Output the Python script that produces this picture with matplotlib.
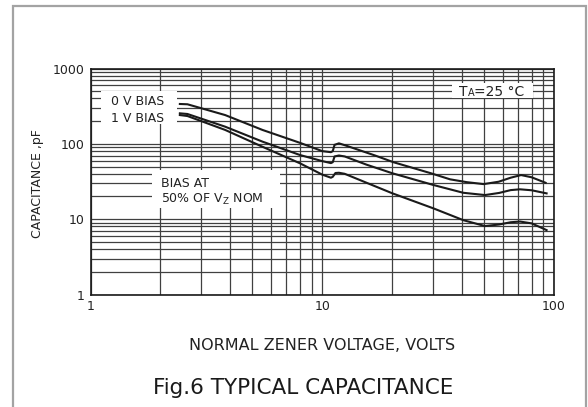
import numpy as np
import matplotlib
matplotlib.use('Agg')
import matplotlib.pyplot as plt
from matplotlib.patches import Rectangle
from matplotlib.ticker import NullFormatter

plt.rcParams['font.family'] = ['DejaVu Sans']

# curve data (volts, pF)
v_0v = [2.43, 2.62, 3.81, 5.52, 8.02, 10.0, 10.9, 11.1, 11.3, 11.8, 12.5, 16.9, 20.3, 29.5, 35.6, 42, 49.7, 57.7, 65, 72.1, 80, 92.0]
c_0v = [338, 335, 241, 153, 103, 80, 77.5, 80, 97, 101.5, 96, 70, 57, 40.6, 33.8, 31, 29.2, 31.4, 35.5, 38.5, 36, 30.4]

v_1v = [2.43, 2.62, 3.81, 5.52, 8.02, 10.0, 10.9, 11.1, 11.3, 11.8, 12.5, 15.5, 20.1, 30.2, 40.6, 50.4, 58, 65, 71.3, 80, 92.9]
c_1v = [254, 249, 169, 107, 71, 59, 55.5, 57, 68, 70, 68, 53, 40.6, 28.4, 22.4, 20.9, 22.3, 24.3, 24.9, 24.2, 22.0]

v_50 = [2.43, 2.62, 3.81, 5.52, 8.02, 10.0, 10.9, 11.1, 11.4, 11.8, 12.5, 15.5, 20.1, 30.2, 40.6, 50.4, 58, 65, 71.3, 80, 92.9]
c_50 = [241, 234, 153, 91.5, 55.1, 39, 35.5, 36.5, 41, 41.3, 40, 30.5, 22.0, 13.9, 9.7, 8.1, 8.5, 9.1, 9.3, 8.8, 7.16]

yticks = [1, 10, 100, 1000]
xticks = [1, 10, 100]

W, H = 588, 407
fig = plt.figure(figsize=(W / 100, H / 100), dpi=100)
ax = fig.add_axes([90.5 / W, 1 - 294.5 / H, 463.5 / W, 226 / H])

# gray outer frame
fig.patches.append(Rectangle((13 / W, -0.05), (586 - 13) / W, 1.05 - 6 / H,
                             transform=fig.transFigure, fill=False,
                             ec='#a3a3a3', lw=1.6, clip_on=False))

ax.set_xscale('log')
ax.set_yscale('log')
ax.set_xlim(1, 100)
ax.set_ylim(1, 1000)
ax.grid(True, which='both', color='#404040', lw=0.9)
ax.set_axisbelow(True)
ax.set_xticks(xticks, labels=[str(t) for t in xticks])
ax.set_yticks(yticks, labels=[str(t) for t in yticks])
ax.xaxis.set_minor_formatter(NullFormatter())
ax.yaxis.set_minor_formatter(NullFormatter())
ax.tick_params(which='both', length=0, labelsize=9, colors='#222222', pad=4)
for s in ax.spines.values():
    s.set_linewidth(1.2)
    s.set_color('#1a1a1a')

for v, c in [(v_0v, c_0v), (v_1v, c_1v), (v_50, c_50)]:
    ax.plot(v, c, color='#1a1a1a', lw=1.5, zorder=4)

def px_box(x0, x1, y0, y1):
    # white box given in pixel coords of the figure
    ax.add_patch(Rectangle(((x0 - 90.5) / 463.5, (294.5 - y1) / 226),
                           (x1 - x0) / 463.5, (y1 - y0) / 226,
                           transform=ax.transAxes, fc='white', ec='none', zorder=2))

def ax_xy(x, y):
    return (x - 90.5) / 463.5, (294.5 - y) / 226

px_box(100.7, 176.7, 91, 124)
px_box(451.7, 533.3, 83, 98)
px_box(151.7, 280, 170, 208)

tk = dict(transform=ax.transAxes, color='#222222', zorder=5, va='baseline', ha='left')
ax.text(*ax_xy(111, 105), '0 V BIAS', fontsize=9, **tk)
ax.text(*ax_xy(111, 121.7), '1 V BIAS', fontsize=9, **tk)
ax.text(*ax_xy(161, 186.7), 'BIAS AT', fontsize=9, **tk)
ax.text(*ax_xy(161, 203.3), r'50% OF V$_\mathregular{Z}$ NOM', fontsize=9, **tk)

t1 = ax.text(*ax_xy(459, 95.7), 'T', fontsize=10, **tk)
t2 = ax.annotate('A', xy=(1, 0), xycoords=t1, xytext=(0, 0.7), textcoords='offset points',
                 fontsize=7, color='#222222', va='bottom', ha='left', zorder=5)
ax.annotate('=25 °C', xy=(1, 0), xycoords=t2, xytext=(0, -0.7), textcoords='offset points',
            fontsize=10, color='#222222', va='bottom', ha='left', zorder=5)

ax.set_xlabel('NORMAL ZENER VOLTAGE, VOLTS', fontsize=11.5, color='#222222', va='center')
ax.xaxis.set_label_coords(0.5, (294.5 - 345.5) / 226)
ax.set_ylabel('CAPACITANCE ,pF', fontsize=9, color='#222222', va='center')
ax.yaxis.set_label_coords((37.5 - 90.5) / 463.5, 0.49)

fig.text(303 / W, 1 - 388 / H, 'Fig.6 TYPICAL CAPACITANCE', fontsize=15.5,
         color='#1a1a1a', ha='center', va='center')

fig.savefig('out.png', dpi=100)
